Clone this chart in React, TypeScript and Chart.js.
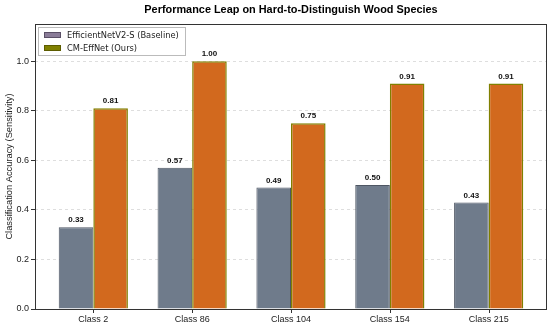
import React, { useEffect, useRef } from "react";
import { Chart, registerables } from "chart.js";

Chart.register(...registerables);

const categories = ["Class 2", "Class 86", "Class 104", "Class 154", "Class 215"];
const baseline = [0.33, 0.57, 0.49, 0.5, 0.43];
const ours = [0.81, 1.0, 0.75, 0.91, 0.91];
const yTicks = [0, 0.2, 0.4, 0.6, 0.8, 1.0];
const seriesNames = ["EfficientNetV2-S (Baseline)", "CM-EffNet (Ours)"];
const titleText = "Performance Leap on Hard-to-Distinguish Wood Species";
const yTitle = "Classification Accuracy (Sensitivity)";

const extras = {
  id: "extras",
  afterDatasetsDraw(chart: any) {
    const ctx = chart.ctx;
    const area = chart.chartArea;
    ctx.save();
    // value labels
    ctx.fillStyle = "#111";
    ctx.font = "bold 8px 'Liberation Sans', Arial, sans-serif";
    ctx.textAlign = "center";
    ctx.textBaseline = "bottom";
    chart.data.datasets.forEach((ds: any, di: number) => {
      const meta = chart.getDatasetMeta(di);
      meta.data.forEach((bar: any, i: number) => {
        const v = ds.data[i].y;
        ctx.fillText(v.toFixed(2), bar.x, bar.y - 3);
      });
    });
    // frame
    ctx.strokeStyle = "#333";
    ctx.lineWidth = 1;
    ctx.strokeRect(Math.round(area.left) + 0.5, Math.round(area.top) + 0.5, Math.round(area.right - area.left) - 1, Math.round(area.bottom - area.top));
    // x tick marks at category centres
    const xs = chart.scales.x;
    ctx.beginPath();
    categories.forEach((_, i) => {
      const px = Math.round(xs.getPixelForValue(i)) + 0.5;
      ctx.moveTo(px, area.bottom);
      ctx.lineTo(px, area.bottom + 4);
    });
    ctx.stroke();
    // title
    ctx.fillStyle = "#000";
    ctx.font = "bold 10.9px 'Liberation Sans', Arial, sans-serif";
    ctx.textBaseline = "middle";
    ctx.fillText(titleText, (area.left + area.right) / 2, 10);
    // legend
    const lx = area.left + 3;
    const ly = area.top + 3;
    const lw = 147;
    const lh = 28;
    ctx.fillStyle = "rgba(255,255,255,0.9)";
    ctx.fillRect(lx, ly, lw, lh);
    ctx.strokeStyle = "#bbb";
    ctx.strokeRect(lx + 0.5, ly + 0.5, lw, lh);
    const swatches = [
      { fill: "#8a7c98", stroke: "#5a4f66" },
      { fill: "#808000", stroke: "#5c5c00" },
    ];
    ctx.font = "8.3px 'DejaVu Sans', sans-serif";
    ctx.textAlign = "left";
    seriesNames.forEach((name, i) => {
      const cy = ly + 8 + i * 13;
      ctx.fillStyle = swatches[i].fill;
      ctx.fillRect(lx + 6, cy - 3, 17, 6);
      ctx.strokeStyle = swatches[i].stroke;
      ctx.strokeRect(lx + 6.5, cy - 2.5, 16, 5);
      ctx.fillStyle = "#222";
      ctx.fillText(name, lx + 29, cy + 0.5);
    });
    ctx.restore();
  },
};

export default function App() {
  const ref = useRef<HTMLCanvasElement | null>(null);
  useEffect(() => {
    if (!ref.current) return;
    const chart = new Chart(ref.current, {
      type: "bar",
      data: {
        datasets: [
          {
            label: seriesNames[0],
            data: baseline.map((v, i) => ({ x: i, y: v })),
            backgroundColor: "#6f7b8b",
            borderColor: "#4e5663",
            borderWidth: 1,
          },
          {
            label: seriesNames[1],
            data: ours.map((v, i) => ({ x: i, y: v })),
            backgroundColor: "#d2691e",
            borderColor: "#808000",
            borderWidth: 1.5,
          },
        ],
      } as any,
      options: {
        animation: false,
        responsive: false,
        maintainAspectRatio: false,
        categoryPercentage: 0.7,
        barPercentage: 1.0,
        layout: { padding: { top: 24, right: 3, left: 0, bottom: 0 } },
        plugins: {
          legend: { display: false },
          title: { display: false },
          tooltip: { enabled: false },
        },
        scales: {
          x: {
            type: "linear",
            min: -0.59,
            max: 4.59,
            offset: false,
            afterBuildTicks: (scale: any) => {
              scale.ticks = categories.map((_, i) => ({ value: i }));
            },
            afterFit: (scale: any) => {
              scale.height = 18;
            },
            ticks: {
              callback: (v: any) => categories[v] ?? "",
              color: "#222",
              font: { size: 9, family: "'Liberation Sans', Arial, sans-serif" },
              padding: 1,
              maxRotation: 0,
              autoSkip: false,
            },
            grid: { display: true, offset: false, drawOnChartArea: false, drawTicks: true, tickLength: 4, color: "rgba(0,0,0,0)" },
            border: { display: false },
          },
          y: {
            type: "linear",
            min: 0,
            max: 1.15,
            afterBuildTicks: (scale: any) => {
              scale.ticks = yTicks.map((v) => ({ value: v }));
            },
            afterFit: (scale: any) => {
              scale.width = 35;
            },
            ticks: {
              callback: (v: any) => Number(v).toFixed(1),
              color: "#222",
              font: { size: 9, family: "'Liberation Sans', Arial, sans-serif" },
              padding: 2,
            },
            title: {
              display: true,
              text: yTitle,
              color: "#222",
              font: { size: 9.3, family: "'Liberation Sans', Arial, sans-serif" },
              padding: { top: 4, bottom: 0 },
            },
            grid: {
              color: (c: any) => (c.tick && c.tick.value === 0 ? "rgba(0,0,0,0)" : "rgba(0,0,0,0.13)"),
              tickColor: "#333",
              tickLength: 4,
              drawTicks: true,
            },
            border: { display: false, dash: [3, 3] },
          },
        },
      } as any,
      plugins: [extras],
    });
    return () => chart.destroy();
  }, []);
  return (
    <div style={{ position: "absolute", left: 0, top: 0, width: 550, height: 327, background: "#fff" }}>
      <canvas ref={ref} width={550} height={327} style={{ width: 550, height: 327 }} />
    </div>
  );
}
